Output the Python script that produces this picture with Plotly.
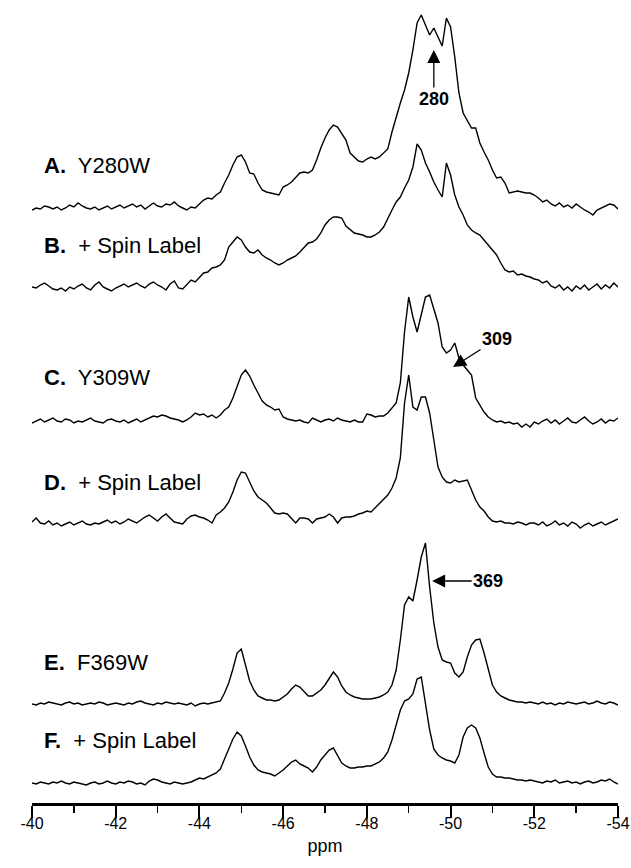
import plotly.graph_objects as go

# chemical shift grid (ppm), -40.0 ... -54.0 in 0.1 ppm steps
ppm = [-40.0, -40.1, -40.2, -40.3, -40.4, -40.5, -40.6, -40.7, -40.8, -40.9,
       -41.0, -41.1, -41.2, -41.3, -41.4, -41.5, -41.6, -41.7, -41.8, -41.9,
       -42.0, -42.1, -42.2, -42.3, -42.4, -42.5, -42.6, -42.7, -42.8, -42.9,
       -43.0, -43.1, -43.2, -43.3, -43.4, -43.5, -43.6, -43.7, -43.8, -43.9,
       -44.0, -44.1, -44.2, -44.3, -44.4, -44.5, -44.6, -44.7, -44.8, -44.9,
       -45.0, -45.1, -45.2, -45.3, -45.4, -45.5, -45.6, -45.7, -45.8, -45.9,
       -46.0, -46.1, -46.2, -46.3, -46.4, -46.5, -46.6, -46.7, -46.8, -46.9,
       -47.0, -47.1, -47.2, -47.3, -47.4, -47.5, -47.6, -47.7, -47.8, -47.9,
       -48.0, -48.1, -48.2, -48.3, -48.4, -48.5, -48.6, -48.7, -48.8, -48.9,
       -49.0, -49.1, -49.2, -49.3, -49.4, -49.5, -49.6, -49.7, -49.8, -49.9,
       -50.0, -50.1, -50.2, -50.3, -50.4, -50.5, -50.6, -50.7, -50.8, -50.9,
       -51.0, -51.1, -51.2, -51.3, -51.4, -51.5, -51.6, -51.7, -51.8, -51.9,
       -52.0, -52.1, -52.2, -52.3, -52.4, -52.5, -52.6, -52.7, -52.8, -52.9,
       -53.0, -53.1, -53.2, -53.3, -53.4, -53.5, -53.6, -53.7, -53.8, -53.9,
       -54.0]

# spectrum intensities (arbitrary units)
spec_A = [2, 4, 3, 6, 5, 3, 5, 2, 4, 7, 5, 9, 6, 4, 3, 5, 2, 4, 6, 3,
          5, 7, 4, 6, 8, 5, 7, 3, 6, 9, 6, 5, 8, 7, 10, 6,
          4, 2, 5, 4, 8, 12, 14, 13, 17, 20, 29, 37, 47, 55, 57, 50, 39, 38, 29, 22,
          20, 19, 18, 17, 25, 27, 30, 34, 39, 40, 39, 42, 52, 64, 74, 82, 87, 85, 79, 72,
          59, 55, 51, 50, 53, 55, 53, 55, 59, 63, 80, 95, 109, 122, 139, 162, 189, 197, 187, 177,
          184, 175, 166, 194, 185, 155, 119, 99, 92, 84, 84, 69, 60, 52, 42, 34, 35, 29, 19, 20,
          21, 20, 19, 19,
          17, 14, 10, 12, 8, 6, 9, 5, 7, 4, 8, 5, 2, 0, -3, 2, 4, 6, 8, 7, 3]

spec_B = [6, 5, 8, 10, 7, 4, 3, 5, 2, 6, 4, 7, 9, 5, 3, 8, 11, 6, 4, 2,
          5, 7, 9, 6, 8, 10, 7, 5, 9, 11, 8, 6, 3, 9, 12, 5,
          4, 8, 13, 11, 16, 20, 21, 25, 26, 28, 33, 46, 51, 56, 53, 46, 41, 40, 43, 38,
          35, 33, 30, 28, 30, 33, 35, 37, 41, 45, 50, 51, 54, 60, 68, 73, 76, 76, 75, 67,
          63, 60, 59, 58, 56, 56, 58, 61, 66, 75, 83, 91, 96, 105, 113, 126, 149, 143, 130, 121,
          111, 103, 96, 130, 118, 98, 86, 78, 68, 63, 60, 58, 53, 49, 43, 38, 30, 23, 21, 22,
          18, 19, 17, 16,
          14, 13, 10, 12, 7, 5, 8, 3, 6, 2, 7, 4, 8, 3, 6, 9, 4, 8, 5, 10, 6]

spec_C = [2, 4, 6, 3, 5, 7, 4, 3, 6, 5, 2, 4, 3, 5, 7, 4, 3, 2, 5, 6,
          4, 3, 5, 2, 4, 6, 3, 5, 7, 9, 8, 10, 9, 7, 6, 5,
          3, 5, 8, 12, 10, 11, 8, 10, 7, 10, 15, 18, 27, 38, 50, 55, 49, 40, 32, 24,
          20, 18, 15, 16, 8, 6, 5, 4, 5, 3, 2, 7, 5, 3, 5, 6, 4, 7, 5, 4,
          3, 5, 3, 3, 11, 10, 8, 9, 9, 12, 17, 22, 42, 93, 128, 108, 93, 112, 128, 130,
          115, 102, 78, 72, 75, 82, 67, 60, 55, 50, 27, 20, 13, 8, 5, 3, 4, 2, 3, 1,
          2, -2, 1, -2,
          3, 1, 4, 6, 2, 5, 1, 4, 7, 3, 2, 5, 8, 4, 1, 3, 6, 2, 5, 4, 7]

spec_D = [5, 9, 4, 3, 6, 2, 4, 1, 3, 5, 2, 4, 6, 3, 2, 4, 3, 5, 7, 4,
          6, 3, 5, 8, 6, 4, 7, 10, 12, 9, 6, 10, 13, 9, 5, 4,
          3, 8, 11, 12, 10, 9, 7, 4, 12, 15, 19, 25, 35, 47, 55, 54, 45, 36, 30, 27,
          24, 19, 14, 13, 14, 13, 8, 4, 9, 9, 8, 4, 8, 9, 10, 13, 10, 4, 9, 10,
          10, 11, 13, 14, 16, 15, 19, 23, 27, 32, 39, 49, 69, 124, 152, 120, 117, 130, 130, 114,
          87, 60, 50, 45, 44, 47, 45, 46, 47, 37, 27, 20, 16, 10, 6, 5, 6, 4, 4, 3,
          5, 4, 2, 4,
          4, 2, 5, 1, 3, 6, 2, 4, 1, 5, 3, -1, 2, 4, 1, 3, 5, 2, 4, 6, 8]

spec_E = [1, 0, 2, 1, 3, 2, 1, 0, 2, 3, 1, 2, 0, 1, 2, 1, 3, 2, 0, 1,
          2, 1, 0, 2, 1, 3, 4, 2, 1, 0, 2, 1, 3, 2, 1, 2,
          1, 0, 2, -1, 1, 2, 1, 2, 3, 4, 12, 22, 36, 52, 56, 40, 24, 15, 9, 7,
          5, 5, 4, 5, 8, 11, 16, 20, 18, 14, 9, 9, 12, 15, 20, 27, 33, 28, 19, 13,
          10, 8, 7, 6, 6, 6, 7, 8, 10, 13, 20, 35, 65, 100, 108, 104, 125, 148, 162, 118,
          82, 58, 45, 43, 42, 32, 28, 33, 48, 60, 65, 66, 52, 35, 20, 13, 9, 7, 5, 4,
          3, 3, 2, 3,
          2, 1, 3, 1, 2, 0, 2, 1, 3, 2, 1, 2, 3, 1, 2, 4, 2, 1, 3, 2, 0]

spec_F = [2, 1, 3, 2, 1, 3, 2, 4, 2, 1, 3, 2, 1, 0, 2, 3, 1, 2, 4, 2,
          1, 3, 2, 4, 3, 1, 2, 0, 4, 6, 5, 3, 2, 1, 3, 2,
          1, 2, 3, 5, 7, 6, 8, 10, 12, 16, 26, 36, 46, 53, 49, 39, 28, 20, 15, 13,
          12, 11, 9, 12, 15, 19, 23, 25, 21, 19, 17, 13, 18, 25, 30, 35, 37, 30, 22, 19,
          17, 17, 18, 18, 19, 19, 21, 23, 27, 33, 45, 60, 75, 84, 86, 91, 106, 108, 80, 55,
          36, 30, 27, 25, 24, 22, 30, 48, 57, 60, 57, 47, 32, 18, 11, 8, 8, 7, 7, 6,
          5, 5, 4, 5,
          4, 3, 2, 4, 3, 5, 2, 3, 4, 2, 3, 1, 3, 4, 2, 3, 5, 4, 6, 3, 1]

spectra = [spec_A, spec_B, spec_C, spec_D, spec_E, spec_F]
for s in spectra:
    assert len(s) == len(ppm), len(s)

labels = ["<b>A.</b>\u00a0 Y280W", "<b>B.</b>\u00a0 + Spin Label", "<b>C.</b>\u00a0 Y309W",
          "<b>D.</b>\u00a0 + Spin Label", "<b>E.</b>\u00a0 F369W", "<b>F.</b>\u00a0 + Spin Label"]

tick_vals = [-40, -42, -44, -46, -48, -50, -52, -54]
tick_text = ["-40", "-42", "-44", "-46", "-48", "-50", "-52", "-54"]
minor_vals = [-41, -43, -45, -47, -49, -51, -53]

# layout: vertical stacking offsets and label heights (plot units)
offsets = [591, 510, 378, 276, 98, 18]
label_y = [638, 558, 426, 321, 141, 63]

FONT = "Liberation Sans, Arial, Helvetica, sans-serif"

fig = go.Figure()
for s, off in zip(spectra, offsets):
    fig.add_trace(go.Scatter(x=ppm, y=[off + v for v in s], mode="lines",
                             line=dict(color="black", width=1.4), showlegend=False,
                             hoverinfo="skip"))

annotations = []
for lab, ly in zip(labels, label_y):
    annotations.append(dict(xref="paper", yref="y", x=0.017, y=ly, text=lab,
                            showarrow=False, xanchor="left", yanchor="middle",
                            font=dict(family=FONT, size=22, color="black")))

arrow_style = dict(showarrow=True, arrowhead=2, arrowsize=2.0, arrowwidth=1.3,
                   arrowcolor="black", standoff=0, xref="x", yref="y",
                   font=dict(family=FONT, size=18, color="black"))
annotations.append(dict(x=-49.6, y=753, ax=0, ay=49, text="<b>280</b>", **arrow_style))
annotations.append(dict(x=-50.06, y=436, ax=44, ay=-28, text="<b>309</b>", **arrow_style))
annotations.append(dict(x=-49.56, y=222, ax=56, ay=0, text="<b>369</b>", **arrow_style))

fig.update_layout(
    width=631, height=868, autosize=False,
    margin=dict(l=32, r=13, t=3, b=65),
    paper_bgcolor="white", plot_bgcolor="white",
    annotations=annotations,
    hovermode=False,
    xaxis=dict(range=[-40, -54], tickmode="array", tickvals=tick_vals, ticktext=tick_text,
               ticks="outside", ticklen=12, tickwidth=2, tickcolor="black",
               showline=True, linewidth=2.5, linecolor="black", showgrid=False,
               zeroline=False, automargin=False, ticklabelstandoff=-8,
               minor=dict(tickmode="array", tickvals=minor_vals,
                          ticks="outside", ticklen=7, tickwidth=1.5, tickcolor="black",
                          showgrid=False),
               tickfont=dict(family=FONT, size=16, color="black"),
               title=dict(text="ppm", font=dict(family=FONT, size=18, color="black"),
                          standoff=9)),
    yaxis=dict(range=[0, 800], visible=False, showgrid=False, zeroline=False),
)

fig.write_html(
    "out.html",
    config={"displayModeBar": False, "staticPlot": True},
    post_script="document.body.style.margin='0';"
                "document.documentElement.style.overflow='hidden';",
)
